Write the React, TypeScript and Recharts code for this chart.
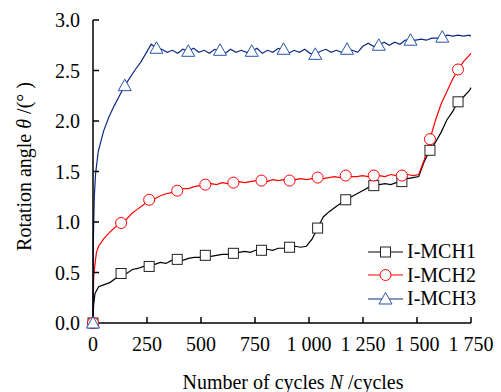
import React from 'react';
import { LineChart, Line, XAxis, YAxis, Legend, Label } from 'recharts';

const FONT = '"Liberation Serif", "Times New Roman", serif';

const xTicks = [0, 250, 500, 750, 1000, 1250, 1500, 1750];
const xTickLabels = ['0', '250', '500', '750', '1 000', '1 250', '1 500', '1 750'];
const yTicks = [0, 0.5, 1.0, 1.5, 2.0, 2.5, 3.0];

// sampling grids (cycles)
const grid26 = Array.from({ length: 67 }, (_, i) => 26 * (i + 1));
const grid245 = Array.from({ length: 71 }, (_, i) => 24.5 * (i + 1));
const cycles12 = [0, 3, 9, 16, ...grid26, 1750];
const cycles3 = [0, 2, 6, 12, ...grid245, 1750];

// rotation angle (deg)
const mch1 = [
  0, 0.18, 0.29, 0.32,
  0.36, 0.38, 0.40, 0.44, 0.49, 0.49, 0.53, 0.54, 0.56, 0.56,
  0.58, 0.60, 0.59, 0.62, 0.63, 0.62, 0.64, 0.65, 0.65, 0.67,
  0.66, 0.67, 0.68, 0.68, 0.69, 0.70, 0.71, 0.70, 0.72, 0.72,
  0.73, 0.72, 0.74, 0.74, 0.75, 0.76, 0.75, 0.76, 0.83, 0.94,
  1.05, 1.10, 1.14, 1.18, 1.22, 1.25, 1.28, 1.31, 1.34, 1.36,
  1.37, 1.38, 1.37, 1.39, 1.40, 1.43, 1.44, 1.45, 1.60, 1.71,
  1.79, 1.89, 2.01, 2.09, 2.19, 2.24, 2.30,
  2.33,
];

const mch2 = [
  0, 0.45, 0.58, 0.70,
  0.76, 0.84, 0.90, 0.95, 0.99, 1.03, 1.09, 1.13, 1.17, 1.22,
  1.23, 1.26, 1.28, 1.29, 1.31, 1.33, 1.33, 1.35, 1.36, 1.37,
  1.38, 1.37, 1.39, 1.38, 1.39, 1.40, 1.39, 1.40, 1.41, 1.41,
  1.40, 1.42, 1.41, 1.42, 1.41, 1.42, 1.43, 1.42, 1.43, 1.44,
  1.43, 1.44, 1.45, 1.44, 1.46, 1.45, 1.45, 1.46, 1.45, 1.46,
  1.46, 1.45, 1.47, 1.46, 1.46, 1.47, 1.46, 1.47, 1.62, 1.82,
  2.01, 2.17, 2.29, 2.41, 2.51, 2.59, 2.65,
  2.67,
];

const mch3 = [
  0, 0.85, 1.25, 1.48,
  1.70, 1.90, 2.04, 2.15, 2.25, 2.35, 2.43, 2.51, 2.58, 2.67,
  2.76, 2.72, 2.71, 2.68, 2.70, 2.67, 2.71, 2.69, 2.72, 2.68,
  2.70, 2.67, 2.71, 2.70, 2.67, 2.71, 2.68, 2.70, 2.68, 2.69,
  2.72, 2.67, 2.70, 2.68, 2.72, 2.71, 2.67, 2.70, 2.68, 2.71,
  2.67, 2.66, 2.69, 2.71, 2.68, 2.70, 2.68, 2.71, 2.70, 2.68,
  2.74, 2.77, 2.74, 2.75, 2.78, 2.75, 2.78, 2.76, 2.80, 2.80,
  2.80, 2.81, 2.80, 2.82, 2.82, 2.83, 2.85, 2.84, 2.85, 2.84,
  2.85,
  2.84,
];

const toPoints = (cycles: number[], values: number[]) =>
  cycles.map((N, i) => ({ N, v: values[i] }));

const series = [
  { name: 'I-MCH1', data: toPoints(cycles12, mch1), color: '#000000', mark: '#222222', shape: 'square', every: 130 },
  { name: 'I-MCH2', data: toPoints(cycles12, mch2), color: '#ff0000', mark: '#ff0000', shape: 'circle', every: 130 },
  { name: 'I-MCH3', data: toPoints(cycles3, mch3), color: '#0c2a82', mark: '#2a55aa', shape: 'triangle', every: 147 },
];

const MarkerShape = ({ cx, cy, shape, color }: { cx: number; cy: number; shape: string; color: string }) => {
  if (shape === 'square') {
    return <rect x={cx - 5} y={cy - 5} width={10} height={10} fill="#fff" stroke={color} strokeWidth={1} />;
  }
  if (shape === 'circle') {
    return <circle cx={cx} cy={cy} r={5.5} fill="#fff" stroke={color} strokeWidth={1} />;
  }
  return (
    <polygon
      points={`${cx},${cy - 6.5} ${cx - 6.5},${cy + 5} ${cx + 6.5},${cy + 5}`}
      fill="#fff"
      stroke={color}
      strokeWidth={1}
    />
  );
};

const makeDot = (s: (typeof series)[number]) => (p: any) => {
  const key = `${s.name}-${p.index}`;
  if (p.payload.N % s.every !== 0 || p.cx == null) return <g key={key} />;
  return (
    <g key={key}>
      <MarkerShape cx={p.cx} cy={p.cy} shape={s.shape} color={s.mark} />
    </g>
  );
};

const LegendBox = () => (
  <div style={{ fontFamily: FONT, fontSize: 20, color: '#000' }}>
    {series.map((s) => (
      <div key={s.name} style={{ display: 'flex', alignItems: 'center', height: 23.5 }}>
        <svg width={39} height={16} style={{ display: 'block' }}>
          <line x1={0} x2={35} y1={8} y2={8} stroke={s.color} strokeWidth={1} />
          <MarkerShape cx={17.5} cy={8} shape={s.shape} color={s.mark} />
        </svg>
        <span>{s.name}</span>
      </div>
    ))}
  </div>
);

const App: React.FC = () => {
  return (
    <div style={{ position: 'absolute', left: 0, top: 0, width: 501, height: 392, background: '#fff' }}>
      <LineChart width={501} height={392} margin={{ top: 20, right: 30, bottom: 0, left: 0 }}>
        <XAxis
          dataKey="N"
          type="number"
          domain={[0, 1750]}
          ticks={xTicks}
          tickFormatter={(v: number) => xTickLabels[xTicks.indexOf(v)]}
          height={69}
          axisLine={{ stroke: '#000', strokeWidth: 1.5 }}
          tickLine={{ stroke: '#000', strokeWidth: 1.5 }}
          tickSize={-6}
          tickMargin={20}
          tick={{ fill: '#000', fontSize: 20, fontFamily: FONT }}
          allowDuplicatedCategory={false}
        >
          <Label
            content={(props: any) => {
              const vb = props.viewBox;
              return (
                <text x={vb.x + vb.width / 2 + 11} y={389} textAnchor="middle" fontSize={20} fontFamily={FONT} fill="#000">
                  <tspan>Number of cycles </tspan>
                  <tspan fontStyle="italic">N</tspan>
                  <tspan> /cycles</tspan>
                </text>
              );
            }}
          />
        </XAxis>
        <YAxis
          type="number"
          domain={[0, 3]}
          ticks={yTicks}
          tickFormatter={(v: number) => v.toFixed(1)}
          width={93}
          axisLine={{ stroke: '#000', strokeWidth: 1.5 }}
          tickLine={{ stroke: '#000', strokeWidth: 1.5 }}
          tickSize={-6}
          tickMargin={19}
          tick={{ fill: '#000', fontSize: 20, fontFamily: FONT }}
        >
          <Label
            content={(props: any) => {
              const vb = props.viewBox;
              const cy = vb.y + vb.height / 2 - 5;
              return (
                <text
                  x={24}
                  y={cy}
                  transform={`rotate(-90, 24, ${cy})`}
                  textAnchor="middle"
                  dominantBaseline="central"
                  fontSize={20}
                  fontFamily={FONT}
                  fill="#000"
                >
                  <tspan>Rotation angle </tspan>
                  <tspan fontStyle="italic">θ</tspan>
                  <tspan> /(° )</tspan>
                </text>
              );
            }}
          />
        </YAxis>
        <Legend
          layout="vertical"
          align="center"
          verticalAlign="middle"
          content={() => <LegendBox />}
          wrapperStyle={{ left: 368, top: 240, width: 130, height: 72 }}
        />
        {series.map((s) => (
          <Line
            key={s.name}
            name={s.name}
            data={s.data}
            dataKey="v"
            type="linear"
            stroke={s.color}
            strokeWidth={1.2}
            dot={makeDot(s)}
            activeDot={false}
            isAnimationActive={false}
          />
        ))}
      </LineChart>
    </div>
  );
};

export default App;
